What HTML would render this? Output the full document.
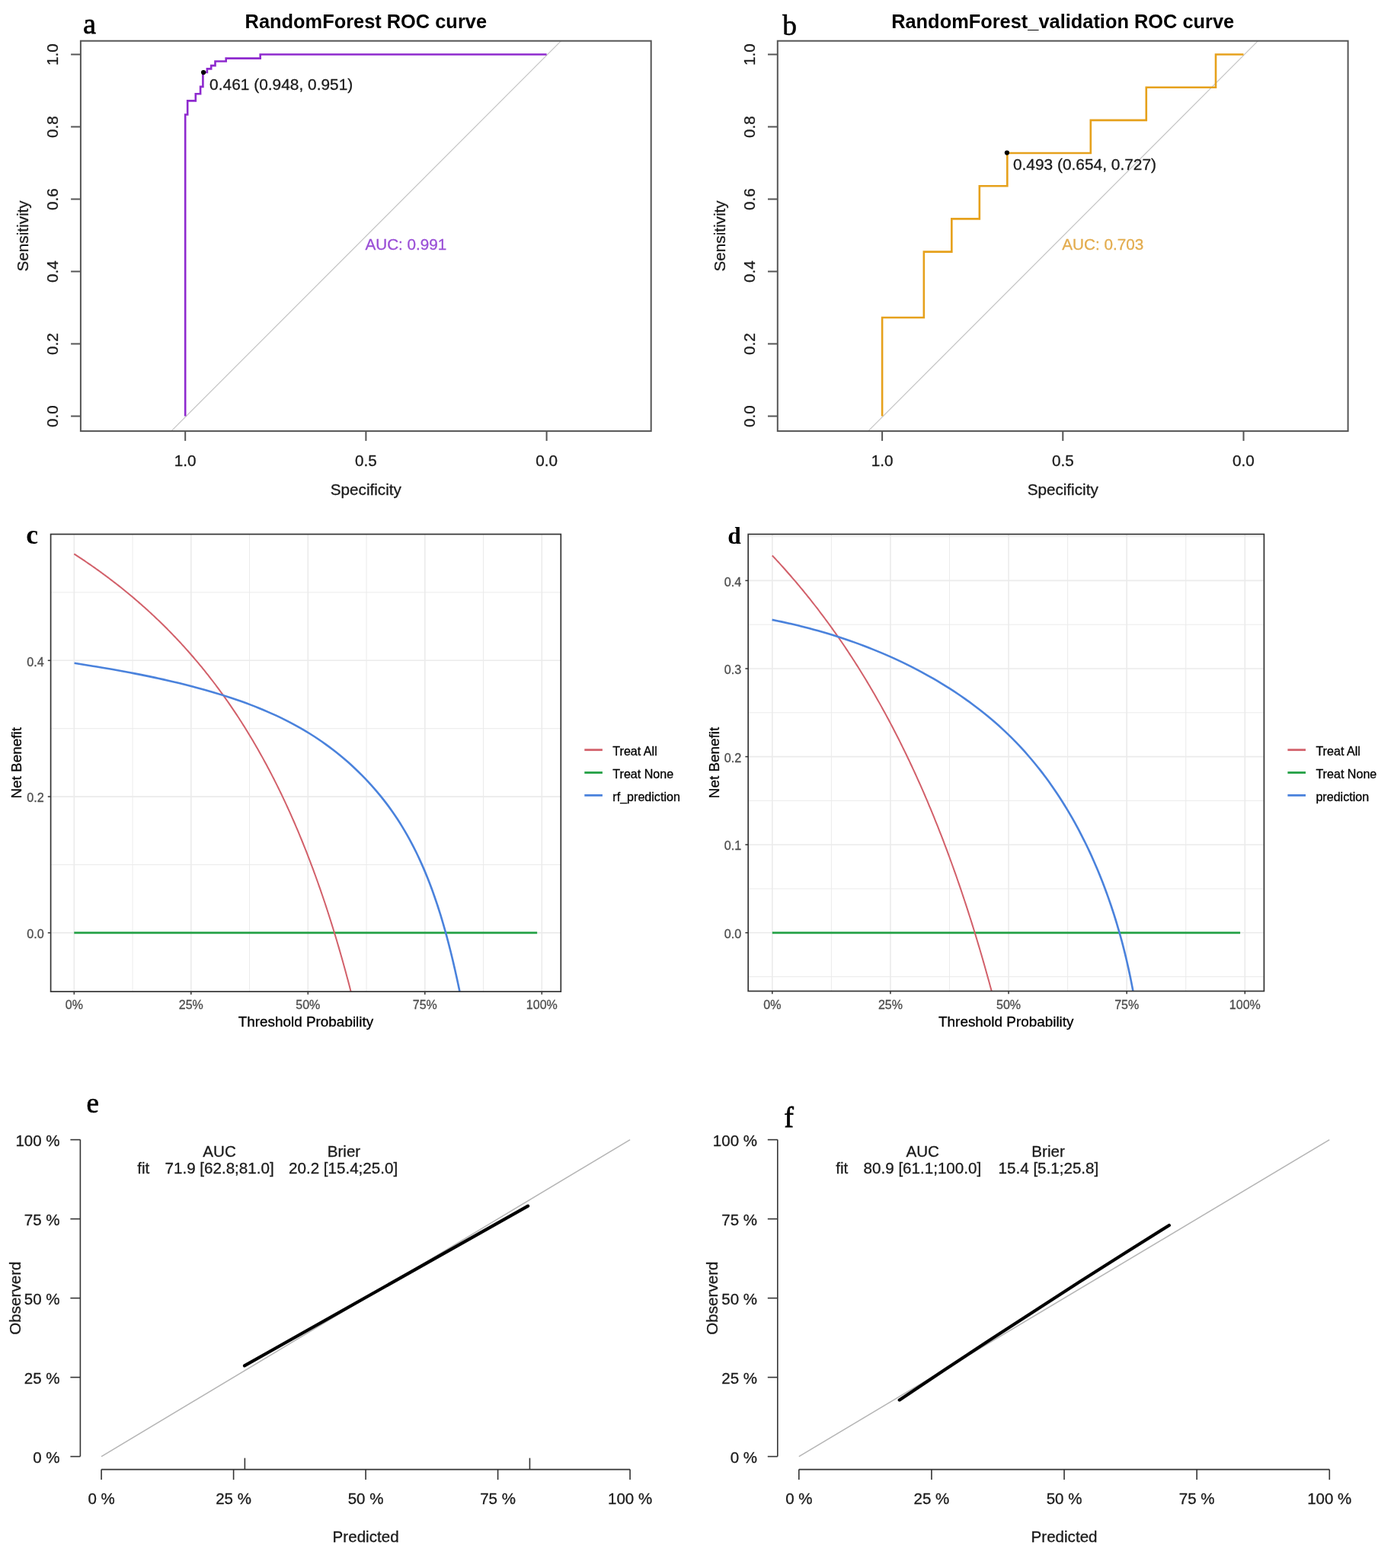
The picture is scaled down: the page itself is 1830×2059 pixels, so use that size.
<!DOCTYPE html>
<html><head><meta charset="utf-8"><title>Model evaluation figure</title>
<style>
html,body{margin:0;padding:0;background:#fff;}
body{width:1830px;height:2059px;overflow:hidden;}
svg{display:block;}
text{white-space:pre;}
</style></head>
<body>
<svg width="1830" height="2059" viewBox="0 0 1830 2059">
<rect x="0" y="0" width="1830" height="2059" fill="#fff"/>
<clipPath id="clipa"><rect x="105.9" y="53.7" width="748.8" height="512.4"/></clipPath>
<line x1="224.8" y1="566.1" x2="736.6" y2="53.7" stroke="#c4c4c4" stroke-width="1.2" clip-path="url(#clipa)"/>
<polyline points="243.2,546.5 243.2,150.5 246.2,150.5 246.2,132.4 256.8,132.4 256.8,123.2 263.1,123.2 263.1,113.9 266.4,113.9 266.4,95.05 271.9,95.05 271.9,90.4 277.2,90.4 277.2,86.1 282.5,86.1 282.5,80.5 296.7,80.5 296.7,76.6 341.7,76.6 341.7,71.5 717.6,71.5" fill="none" stroke="#8e2ace" stroke-width="2.6" stroke-linejoin="miter"/>
<circle cx="267.1" cy="95.1" r="3.1" fill="#000"/>
<text x="275.1" y="117.7" font-family="'Liberation Sans', Arial, sans-serif" font-size="20.9" fill="#1a1a1a" text-anchor="start" stroke="#1a1a1a" stroke-width="0.3">0.461 (0.948, 0.951)</text>
<text x="479.4" y="327.5" font-family="'Liberation Sans', Arial, sans-serif" font-size="20.7" fill="#9a4fd6" text-anchor="start" stroke="#9a4fd6" stroke-width="0.3">AUC: 0.991</text>
<rect x="105.9" y="53.7" width="748.8" height="512.4" fill="none" stroke="#555" stroke-width="2"/>
<line x1="93.1" y1="546.5" x2="105.9" y2="546.5" stroke="#555" stroke-width="2" />
<text x="76.3" y="546.5" font-family="'Liberation Sans', Arial, sans-serif" font-size="20.7" fill="#1a1a1a" text-anchor="middle" transform="rotate(-90 76.3 546.5)" stroke="#1a1a1a" stroke-width="0.3">0.0</text>
<line x1="93.1" y1="451.5" x2="105.9" y2="451.5" stroke="#555" stroke-width="2" />
<text x="76.3" y="451.5" font-family="'Liberation Sans', Arial, sans-serif" font-size="20.7" fill="#1a1a1a" text-anchor="middle" transform="rotate(-90 76.3 451.5)" stroke="#1a1a1a" stroke-width="0.3">0.2</text>
<line x1="93.1" y1="356.5" x2="105.9" y2="356.5" stroke="#555" stroke-width="2" />
<text x="76.3" y="356.5" font-family="'Liberation Sans', Arial, sans-serif" font-size="20.7" fill="#1a1a1a" text-anchor="middle" transform="rotate(-90 76.3 356.5)" stroke="#1a1a1a" stroke-width="0.3">0.4</text>
<line x1="93.1" y1="261.5" x2="105.9" y2="261.5" stroke="#555" stroke-width="2" />
<text x="76.3" y="261.5" font-family="'Liberation Sans', Arial, sans-serif" font-size="20.7" fill="#1a1a1a" text-anchor="middle" transform="rotate(-90 76.3 261.5)" stroke="#1a1a1a" stroke-width="0.3">0.6</text>
<line x1="93.1" y1="166.5" x2="105.9" y2="166.5" stroke="#555" stroke-width="2" />
<text x="76.3" y="166.5" font-family="'Liberation Sans', Arial, sans-serif" font-size="20.7" fill="#1a1a1a" text-anchor="middle" transform="rotate(-90 76.3 166.5)" stroke="#1a1a1a" stroke-width="0.3">0.8</text>
<line x1="93.1" y1="71.5" x2="105.9" y2="71.5" stroke="#555" stroke-width="2" />
<text x="76.3" y="71.5" font-family="'Liberation Sans', Arial, sans-serif" font-size="20.7" fill="#1a1a1a" text-anchor="middle" transform="rotate(-90 76.3 71.5)" stroke="#1a1a1a" stroke-width="0.3">1.0</text>
<line x1="243.2" y1="566.1" x2="243.2" y2="578.9" stroke="#555" stroke-width="2" />
<text x="243.2" y="611.6" font-family="'Liberation Sans', Arial, sans-serif" font-size="20.7" fill="#1a1a1a" text-anchor="middle" stroke="#1a1a1a" stroke-width="0.3">1.0</text>
<line x1="480.4" y1="566.1" x2="480.4" y2="578.9" stroke="#555" stroke-width="2" />
<text x="480.4" y="611.6" font-family="'Liberation Sans', Arial, sans-serif" font-size="20.7" fill="#1a1a1a" text-anchor="middle" stroke="#1a1a1a" stroke-width="0.3">0.5</text>
<line x1="717.6" y1="566.1" x2="717.6" y2="578.9" stroke="#555" stroke-width="2" />
<text x="717.6" y="611.6" font-family="'Liberation Sans', Arial, sans-serif" font-size="20.7" fill="#1a1a1a" text-anchor="middle" stroke="#1a1a1a" stroke-width="0.3">0.0</text>
<text x="480.3" y="650.3" font-family="'Liberation Sans', Arial, sans-serif" font-size="20.7" fill="#1a1a1a" text-anchor="middle" stroke="#1a1a1a" stroke-width="0.3">Specificity</text>
<text x="37" y="309.9" font-family="'Liberation Sans', Arial, sans-serif" font-size="20.7" fill="#1a1a1a" text-anchor="middle" transform="rotate(-90 37 309.9)" stroke="#1a1a1a" stroke-width="0.3">Sensitivity</text>
<text x="480.3" y="36.8" font-family="'Liberation Sans', Arial, sans-serif" font-size="25.4" fill="#000" text-anchor="middle" font-weight="bold" >RandomForest ROC curve</text>
<clipPath id="clipb"><rect x="1020.8" y="53.7" width="748.8" height="512.4"/></clipPath>
<line x1="1139.7" y1="566.1" x2="1651.5" y2="53.7" stroke="#c4c4c4" stroke-width="1.2" clip-path="url(#clipb)"/>
<polyline points="1158.1,546.5 1158.1,416.95 1212.84,416.95 1212.84,330.59 1249.33,330.59 1249.33,287.41 1285.82,287.41 1285.82,244.23 1322.32,244.23 1322.32,201.05 1431.79,201.05 1431.79,157.86 1504.78,157.86 1504.78,114.68 1596.01,114.68 1596.01,71.5 1632.5,71.5" fill="none" stroke="#e6a11c" stroke-width="2.6" stroke-linejoin="miter"/>
<circle cx="1321.9" cy="200.6" r="3.1" fill="#000"/>
<text x="1329.9" y="223.2" font-family="'Liberation Sans', Arial, sans-serif" font-size="20.9" fill="#1a1a1a" text-anchor="start" stroke="#1a1a1a" stroke-width="0.3">0.493 (0.654, 0.727)</text>
<text x="1394.3" y="327.5" font-family="'Liberation Sans', Arial, sans-serif" font-size="20.7" fill="#e3ac4e" text-anchor="start" stroke="#e3ac4e" stroke-width="0.3">AUC: 0.703</text>
<rect x="1020.8" y="53.7" width="748.8" height="512.4" fill="none" stroke="#555" stroke-width="2"/>
<line x1="1008" y1="546.5" x2="1020.8" y2="546.5" stroke="#555" stroke-width="2" />
<text x="991.2" y="546.5" font-family="'Liberation Sans', Arial, sans-serif" font-size="20.7" fill="#1a1a1a" text-anchor="middle" transform="rotate(-90 991.2 546.5)" stroke="#1a1a1a" stroke-width="0.3">0.0</text>
<line x1="1008" y1="451.5" x2="1020.8" y2="451.5" stroke="#555" stroke-width="2" />
<text x="991.2" y="451.5" font-family="'Liberation Sans', Arial, sans-serif" font-size="20.7" fill="#1a1a1a" text-anchor="middle" transform="rotate(-90 991.2 451.5)" stroke="#1a1a1a" stroke-width="0.3">0.2</text>
<line x1="1008" y1="356.5" x2="1020.8" y2="356.5" stroke="#555" stroke-width="2" />
<text x="991.2" y="356.5" font-family="'Liberation Sans', Arial, sans-serif" font-size="20.7" fill="#1a1a1a" text-anchor="middle" transform="rotate(-90 991.2 356.5)" stroke="#1a1a1a" stroke-width="0.3">0.4</text>
<line x1="1008" y1="261.5" x2="1020.8" y2="261.5" stroke="#555" stroke-width="2" />
<text x="991.2" y="261.5" font-family="'Liberation Sans', Arial, sans-serif" font-size="20.7" fill="#1a1a1a" text-anchor="middle" transform="rotate(-90 991.2 261.5)" stroke="#1a1a1a" stroke-width="0.3">0.6</text>
<line x1="1008" y1="166.5" x2="1020.8" y2="166.5" stroke="#555" stroke-width="2" />
<text x="991.2" y="166.5" font-family="'Liberation Sans', Arial, sans-serif" font-size="20.7" fill="#1a1a1a" text-anchor="middle" transform="rotate(-90 991.2 166.5)" stroke="#1a1a1a" stroke-width="0.3">0.8</text>
<line x1="1008" y1="71.5" x2="1020.8" y2="71.5" stroke="#555" stroke-width="2" />
<text x="991.2" y="71.5" font-family="'Liberation Sans', Arial, sans-serif" font-size="20.7" fill="#1a1a1a" text-anchor="middle" transform="rotate(-90 991.2 71.5)" stroke="#1a1a1a" stroke-width="0.3">1.0</text>
<line x1="1158.1" y1="566.1" x2="1158.1" y2="578.9" stroke="#555" stroke-width="2" />
<text x="1158.1" y="611.6" font-family="'Liberation Sans', Arial, sans-serif" font-size="20.7" fill="#1a1a1a" text-anchor="middle" stroke="#1a1a1a" stroke-width="0.3">1.0</text>
<line x1="1395.3" y1="566.1" x2="1395.3" y2="578.9" stroke="#555" stroke-width="2" />
<text x="1395.3" y="611.6" font-family="'Liberation Sans', Arial, sans-serif" font-size="20.7" fill="#1a1a1a" text-anchor="middle" stroke="#1a1a1a" stroke-width="0.3">0.5</text>
<line x1="1632.5" y1="566.1" x2="1632.5" y2="578.9" stroke="#555" stroke-width="2" />
<text x="1632.5" y="611.6" font-family="'Liberation Sans', Arial, sans-serif" font-size="20.7" fill="#1a1a1a" text-anchor="middle" stroke="#1a1a1a" stroke-width="0.3">0.0</text>
<text x="1395.2" y="650.3" font-family="'Liberation Sans', Arial, sans-serif" font-size="20.7" fill="#1a1a1a" text-anchor="middle" stroke="#1a1a1a" stroke-width="0.3">Specificity</text>
<text x="951.9" y="309.9" font-family="'Liberation Sans', Arial, sans-serif" font-size="20.7" fill="#1a1a1a" text-anchor="middle" transform="rotate(-90 951.9 309.9)" stroke="#1a1a1a" stroke-width="0.3">Sensitivity</text>
<text x="1395.2" y="36.8" font-family="'Liberation Sans', Arial, sans-serif" font-size="25.4" fill="#000" text-anchor="middle" font-weight="bold" >RandomForest_validation ROC curve</text>
<text x="109.3" y="43.6" font-family="'Liberation Serif', 'Times New Roman', serif" font-size="37.5" fill="#000" text-anchor="start" stroke="#000" stroke-width="0.8">a</text>
<text x="1027.2" y="46.3" font-family="'Liberation Serif', 'Times New Roman', serif" font-size="37.5" fill="#000" text-anchor="start" stroke="#000" stroke-width="0.6">b</text>
<text x="34.2" y="713.8" font-family="'Liberation Serif', 'Times New Roman', serif" font-size="35.5" fill="#000" text-anchor="start" font-weight="bold" >c</text>
<text x="955.3" y="714" font-family="'Liberation Serif', 'Times New Roman', serif" font-size="31.5" fill="#000" text-anchor="start" font-weight="bold" >d</text>
<text x="113.6" y="1460.8" font-family="'Liberation Serif', 'Times New Roman', serif" font-size="37" fill="#000" text-anchor="start" stroke="#000" stroke-width="0.7">e</text>
<text x="1029.6" y="1479.8" font-family="'Liberation Serif', 'Times New Roman', serif" font-size="37" fill="#000" text-anchor="start" stroke="#000" stroke-width="0.8">f</text>
<clipPath id="dca66"><rect x="66.6" y="701.5" width="669.7" height="600.6"/></clipPath>
<g clip-path="url(#dca66)">
<line x1="66.6" y1="1135.5" x2="736.3" y2="1135.5" stroke="#ebebeb" stroke-width="1.0" />
<line x1="66.6" y1="956.7" x2="736.3" y2="956.7" stroke="#ebebeb" stroke-width="1.0" />
<line x1="66.6" y1="777.9" x2="736.3" y2="777.9" stroke="#ebebeb" stroke-width="1.0" />
<line x1="174.05" y1="701.5" x2="174.05" y2="1302.1" stroke="#ebebeb" stroke-width="1.0" />
<line x1="327.55" y1="701.5" x2="327.55" y2="1302.1" stroke="#ebebeb" stroke-width="1.0" />
<line x1="481.05" y1="701.5" x2="481.05" y2="1302.1" stroke="#ebebeb" stroke-width="1.0" />
<line x1="634.55" y1="701.5" x2="634.55" y2="1302.1" stroke="#ebebeb" stroke-width="1.0" />
<line x1="66.6" y1="1224.9" x2="736.3" y2="1224.9" stroke="#ebebeb" stroke-width="1.6" />
<line x1="66.6" y1="1046.1" x2="736.3" y2="1046.1" stroke="#ebebeb" stroke-width="1.6" />
<line x1="66.6" y1="867.3" x2="736.3" y2="867.3" stroke="#ebebeb" stroke-width="1.6" />
<line x1="97.3" y1="701.5" x2="97.3" y2="1302.1" stroke="#ebebeb" stroke-width="1.6" />
<line x1="250.8" y1="701.5" x2="250.8" y2="1302.1" stroke="#ebebeb" stroke-width="1.6" />
<line x1="404.3" y1="701.5" x2="404.3" y2="1302.1" stroke="#ebebeb" stroke-width="1.6" />
<line x1="557.8" y1="701.5" x2="557.8" y2="1302.1" stroke="#ebebeb" stroke-width="1.6" />
<line x1="711.3" y1="701.5" x2="711.3" y2="1302.1" stroke="#ebebeb" stroke-width="1.6" />
</g>
<line x1="97.3" y1="1224.9" x2="705.16" y2="1224.9" stroke="#22a044" stroke-width="2.8" />
<polyline points="97.3,727.39 98.82,728.38 100.35,729.37 101.87,730.36 103.39,731.36 104.92,732.37 106.44,733.38 107.96,734.4 109.49,735.42 111.01,736.45 112.53,737.48 114.06,738.51 115.58,739.56 117.1,740.6 118.63,741.66 120.15,742.72 121.68,743.78 123.2,744.85 124.72,745.92 126.25,747.01 127.77,748.09 129.29,749.18 130.82,750.28 132.34,751.39 133.86,752.49 135.39,753.61 136.91,754.73 138.43,755.86 139.96,756.99 141.48,758.13 143,759.28 144.53,760.43 146.05,761.58 147.57,762.75 149.1,763.92 150.62,765.1 152.14,766.28 153.67,767.47 155.19,768.66 156.71,769.87 158.24,771.08 159.76,772.29 161.29,773.51 162.81,774.74 164.33,775.98 165.86,777.22 167.38,778.47 168.9,779.73 170.43,780.99 171.95,782.27 173.47,783.54 175,784.83 176.52,786.12 178.04,787.42 179.57,788.73 181.09,790.05 182.61,791.37 184.14,792.7 185.66,794.04 187.18,795.39 188.71,796.74 190.23,798.1 191.75,799.47 193.28,800.85 194.8,802.24 196.32,803.63 197.85,805.03 199.37,806.44 200.9,807.86 202.42,809.29 203.94,810.73 205.47,812.17 206.99,813.63 208.51,815.09 210.04,816.56 211.56,818.04 213.08,819.53 214.61,821.03 216.13,822.54 217.65,824.05 219.18,825.58 220.7,827.12 222.22,828.66 223.75,830.22 225.27,831.78 226.79,833.36 228.32,834.94 229.84,836.54 231.36,838.14 232.89,839.76 234.41,841.38 235.93,843.02 237.46,844.67 238.98,846.32 240.51,847.99 242.03,849.67 243.55,851.36 245.08,853.06 246.6,854.77 248.12,856.5 249.65,858.23 251.17,859.98 252.69,861.73 254.22,863.5 255.74,865.28 257.26,867.08 258.79,868.88 260.31,870.7 261.83,872.53 263.36,874.37 264.88,876.23 266.4,878.09 267.93,879.97 269.45,881.87 270.97,883.77 272.5,885.69 274.02,887.63 275.54,889.57 277.07,891.53 278.59,893.51 280.12,895.49 281.64,897.5 283.16,899.51 284.69,901.54 286.21,903.59 287.73,905.65 289.26,907.72 290.78,909.81 292.3,911.92 293.83,914.04 295.35,916.17 296.87,918.32 298.4,920.49 299.92,922.67 301.44,924.87 302.97,927.09 304.49,929.32 306.01,931.57 307.54,933.84 309.06,936.12 310.58,938.42 312.11,940.74 313.63,943.08 315.15,945.43 316.68,947.8 318.2,950.2 319.72,952.61 321.25,955.03 322.77,957.48 324.3,959.95 325.82,962.43 327.34,964.94 328.87,967.46 330.39,970.01 331.91,972.58 333.44,975.16 334.96,977.77 336.48,980.4 338.01,983.05 339.53,985.72 341.05,988.42 342.58,991.14 344.1,993.88 345.62,996.64 347.15,999.42 348.67,1002.23 350.19,1005.06 351.72,1007.92 353.24,1010.8 354.76,1013.71 356.29,1016.64 357.81,1019.59 359.33,1022.57 360.86,1025.58 362.38,1028.61 363.91,1031.67 365.43,1034.76 366.95,1037.87 368.48,1041.01 370,1044.18 371.52,1047.38 373.05,1050.61 374.57,1053.86 376.09,1057.15 377.62,1060.47 379.14,1063.81 380.66,1067.19 382.19,1070.6 383.71,1074.04 385.23,1077.51 386.76,1081.01 388.28,1084.55 389.8,1088.12 391.33,1091.73 392.85,1095.37 394.37,1099.04 395.9,1102.75 397.42,1106.5 398.94,1110.28 400.47,1114.1 401.99,1117.96 403.52,1121.86 405.04,1125.79 406.56,1129.76 408.09,1133.78 409.61,1137.83 411.13,1141.93 412.66,1146.07 414.18,1150.24 415.7,1154.47 417.23,1158.73 418.75,1163.05 420.27,1167.4 421.8,1171.8 423.32,1176.25 424.84,1180.75 426.37,1185.29 427.89,1189.88 429.41,1194.53 430.94,1199.22 432.46,1203.96 433.98,1208.76 435.51,1213.61 437.03,1218.51 438.55,1223.47 440.08,1228.48 441.6,1233.55 443.13,1238.68 444.65,1243.87 446.17,1249.11 447.7,1254.42 449.22,1259.79 450.74,1265.22 452.27,1270.72 453.79,1276.28 455.31,1281.9 456.84,1287.6 458.36,1293.36 459.88,1299.19 461.41,1305.09 462.93,1311.07 464.45,1317.12 465.98,1323.24 467.5,1329.44 469.02,1335.72 470.55,1342.08 472.07,1348.52 473.59,1355.04 475.12,1361.65 476.64,1368.34 478.16,1375.12 479.69,1381.99 481.21,1388.95 482.74,1396 484.26,1403.15 485.78,1410.39 487.31,1417.73 488.83,1425.17 490.35,1432.72 491.88,1440.37 493.4,1448.13 494.92,1455.99 496.45,1463.97 497.97,1472.06 499.49,1480.27 501.02,1488.6 502.54,1497.04 504.06,1505.62 505.59,1514.32 507.11,1523.15 508.63,1532.11 510.16,1541.21 511.68,1550.44 513.2,1559.82 514.73,1569.35 516.25,1579.02 517.77,1588.84 519.3,1598.83 520.82,1608.97 522.34,1619.27 523.87,1629.74 525.39,1640.39 526.92,1651.21 528.44,1662.21 529.96,1673.39 531.49,1684.76 533.01,1696.33 534.53,1708.1 536.06,1720.07 537.58,1732.26 539.1,1744.65 540.63,1757.27 542.15,1770.12 543.67,1783.2 545.2,1796.52 546.72,1810.09 548.24,1823.91 549.77,1837.99 551.29,1852.34 552.81,1866.96 554.34,1881.87 555.86,1897.07 557.38,1912.57 558.91,1928.39 560.43,1944.52 561.95,1960.98 563.48,1977.78 565,1994.93 566.53,2012.44 568.05,2030.32 569.57,2048.59 571.1,2067.25 572.62,2086.33 574.14,2105.83 575.67,2125.76 577.19,2146.15 578.71,2167.01 580.24,2188.35 581.76,2210.2 583.28,2232.56 584.81,2255.46 586.33,2278.93 587.85,2302.97 589.38,2327.61 590.9,2352.87 592.42,2378.78 593.95,2405.37 595.47,2432.66 596.99,2460.67 598.52,2489.44 600.04,2518.99 601.56,2549.37 603.09,2580.6 604.61,2612.73 606.14,2645.78 607.66,2679.81 609.18,2714.85 610.71,2750.96 612.23,2788.17 613.75,2826.55 615.28,2866.14 616.8,2907.01 618.32,2949.22 619.85,2992.84 621.37,3037.93 622.89,3084.58 624.42,3132.87 625.94,3182.88 627.46,3234.7 628.99,3288.45 630.51,3344.22 632.03,3402.13 633.56,3462.32 635.08,3524.91 636.6,3590.05 638.13,3657.91 639.65,3728.65 641.17,3802.46 642.7,3879.56 644.22,3960.15 645.75,4044.49 647.27,4132.85 648.79,4225.51 650.32,4322.8 651.84,4425.08 653.36,4532.74 654.89,4646.21 656.41,4765.97 657.93,4892.58 659.46,5026.63 660.98,5168.79 662.5,5319.83 664.03,5480.61 665.55,5652.09 667.07,5835.39 668.6,6031.77 670.12,6242.68 671.64,6469.79 673.17,6715.04 674.69,6980.72 676.21,7269.46 677.74,7584.41 679.26,7929.32 680.78,8308.67 682.31,8727.88 683.83,9193.6 685.36,9714 686.88,10299.34 688.4,10962.56 689.93,11720.32 691.45,12594.4 692.97,13613.78 694.5,14818 696.02,16262.33 697.54,18026.55 699.07,20230.16 700.59,23060.66 702.11,26829.91 703.64,32097.79 705.16,39979.8" fill="none" stroke="#d2606a" stroke-width="2.0" clip-path="url(#dca66)"/>
<path d="M97.6,870.79 C99.63,871.11 105.74,872.05 109.81,872.7 C113.89,873.35 117.96,874.01 122.03,874.67 C126.11,875.34 130.18,876.02 134.26,876.71 C138.33,877.4 142.4,878.1 146.48,878.81 C150.55,879.53 154.62,880.26 158.7,881 C162.77,881.74 166.84,882.5 170.91,883.28 C174.98,884.05 179.06,884.84 183.12,885.65 C187.19,886.46 191.26,887.29 195.33,888.13 C199.39,888.98 203.46,889.84 207.52,890.73 C211.58,891.61 215.65,892.52 219.7,893.45 C223.76,894.37 227.82,895.32 231.87,896.3 C235.93,897.27 239.98,898.27 244.03,899.29 C248.07,900.31 252.12,901.36 256.16,902.43 C260.2,903.51 264.24,904.6 268.28,905.73 C272.31,906.86 276.34,908.02 280.35,909.21 C284.37,910.4 288.38,911.62 292.38,912.87 C296.38,914.13 300.37,915.42 304.34,916.74 C308.31,918.07 312.27,919.43 316.22,920.83 C320.16,922.23 324.09,923.67 328,925.15 C331.91,926.64 335.8,928.16 339.67,929.73 C343.54,931.3 347.38,932.91 351.21,934.57 C355.03,936.22 358.83,937.93 362.61,939.68 C366.38,941.44 370.13,943.24 373.85,945.1 C377.56,946.95 381.25,948.86 384.91,950.82 C388.57,952.78 392.2,954.8 395.79,956.87 C399.38,958.95 402.94,961.08 406.46,963.26 C409.98,965.45 413.47,967.7 416.92,970 C420.37,972.31 423.78,974.67 427.15,977.09 C430.51,979.5 433.85,981.98 437.13,984.51 C440.42,987.03 443.67,989.62 446.87,992.25 C450.07,994.88 453.23,997.57 456.35,1000.31 C459.46,1003.05 462.53,1005.84 465.56,1008.68 C468.58,1011.52 471.56,1014.42 474.48,1017.36 C477.41,1020.3 480.29,1023.29 483.12,1026.32 C485.94,1029.36 488.72,1032.44 491.45,1035.57 C494.17,1038.7 496.85,1041.88 499.47,1045.1 C502.09,1048.32 504.65,1051.59 507.16,1054.9 C509.67,1058.2 512.13,1061.56 514.52,1064.95 C516.92,1068.35 519.26,1071.78 521.54,1075.26 C523.82,1078.74 526.04,1082.25 528.21,1085.81 C530.37,1089.36 532.48,1092.96 534.53,1096.59 C536.58,1100.22 538.57,1103.88 540.52,1107.58 C542.46,1111.27 544.35,1115 546.19,1118.76 C548.03,1122.51 549.82,1126.3 551.56,1130.12 C553.3,1133.93 554.99,1137.77 556.64,1141.63 C558.28,1145.49 559.88,1149.38 561.44,1153.29 C563,1157.19 564.51,1161.12 565.98,1165.07 C567.45,1169.01 568.88,1172.97 570.27,1176.95 C571.66,1180.93 573.01,1184.92 574.33,1188.92 C575.64,1192.93 576.92,1196.95 578.17,1200.97 C579.41,1204.99 580.62,1209.03 581.8,1213.07 C582.97,1217.11 584.12,1221.16 585.23,1225.2 C586.35,1229.25 587.43,1233.31 588.49,1237.36 C589.55,1241.41 590.58,1245.46 591.59,1249.51 C592.59,1253.56 593.57,1257.61 594.53,1261.65 C595.49,1265.69 596.42,1269.73 597.33,1273.76 C598.25,1277.79 599.14,1281.81 600.01,1285.82 C600.89,1289.82 601.74,1293.82 602.58,1297.8 C603.42,1301.78 604.64,1307.72 605.06,1309.71" fill="none" stroke="#4a82dc" stroke-width="2.6" clip-path="url(#dca66)" stroke-linejoin="round"/>
<rect x="66.6" y="701.5" width="669.7" height="600.6" fill="none" stroke="#333" stroke-width="1.7"/>
<line x1="62.8" y1="1224.9" x2="66.6" y2="1224.9" stroke="#333" stroke-width="1.5" />
<text x="57.7" y="1232.1" font-family="'Liberation Sans', Arial, sans-serif" font-size="16.2" fill="#4d4d4d" text-anchor="end" stroke="#4d4d4d" stroke-width="0.3">0.0</text>
<line x1="62.8" y1="1046.1" x2="66.6" y2="1046.1" stroke="#333" stroke-width="1.5" />
<text x="57.7" y="1053.3" font-family="'Liberation Sans', Arial, sans-serif" font-size="16.2" fill="#4d4d4d" text-anchor="end" stroke="#4d4d4d" stroke-width="0.3">0.2</text>
<line x1="62.8" y1="867.3" x2="66.6" y2="867.3" stroke="#333" stroke-width="1.5" />
<text x="57.7" y="874.5" font-family="'Liberation Sans', Arial, sans-serif" font-size="16.2" fill="#4d4d4d" text-anchor="end" stroke="#4d4d4d" stroke-width="0.3">0.4</text>
<line x1="97.3" y1="1302.1" x2="97.3" y2="1305.9" stroke="#333" stroke-width="1.5" />
<text x="97.3" y="1325.3" font-family="'Liberation Sans', Arial, sans-serif" font-size="16" fill="#4d4d4d" text-anchor="middle" stroke="#4d4d4d" stroke-width="0.3">0%</text>
<line x1="250.8" y1="1302.1" x2="250.8" y2="1305.9" stroke="#333" stroke-width="1.5" />
<text x="250.8" y="1325.3" font-family="'Liberation Sans', Arial, sans-serif" font-size="16" fill="#4d4d4d" text-anchor="middle" stroke="#4d4d4d" stroke-width="0.3">25%</text>
<line x1="404.3" y1="1302.1" x2="404.3" y2="1305.9" stroke="#333" stroke-width="1.5" />
<text x="404.3" y="1325.3" font-family="'Liberation Sans', Arial, sans-serif" font-size="16" fill="#4d4d4d" text-anchor="middle" stroke="#4d4d4d" stroke-width="0.3">50%</text>
<line x1="557.8" y1="1302.1" x2="557.8" y2="1305.9" stroke="#333" stroke-width="1.5" />
<text x="557.8" y="1325.3" font-family="'Liberation Sans', Arial, sans-serif" font-size="16" fill="#4d4d4d" text-anchor="middle" stroke="#4d4d4d" stroke-width="0.3">75%</text>
<line x1="711.3" y1="1302.1" x2="711.3" y2="1305.9" stroke="#333" stroke-width="1.5" />
<text x="711.3" y="1325.3" font-family="'Liberation Sans', Arial, sans-serif" font-size="16" fill="#4d4d4d" text-anchor="middle" stroke="#4d4d4d" stroke-width="0.3">100%</text>
<text x="401.45" y="1348" font-family="'Liberation Sans', Arial, sans-serif" font-size="18.9" fill="#000" text-anchor="middle" stroke="#000" stroke-width="0.3">Threshold Probability</text>
<text x="28" y="1001.8" font-family="'Liberation Sans', Arial, sans-serif" font-size="18.9" fill="#000" text-anchor="middle" transform="rotate(-90 28 1001.8)" stroke="#000" stroke-width="0.3">Net Benefit</text>
<line x1="767.3" y1="984.7" x2="790.9" y2="984.7" stroke="#d2606a" stroke-width="2.8" />
<text x="804.3" y="992.3" font-family="'Liberation Sans', Arial, sans-serif" font-size="16.1" fill="#000" text-anchor="start" stroke="#000" stroke-width="0.3">Treat All</text>
<line x1="767.3" y1="1014.55" x2="790.9" y2="1014.55" stroke="#22a044" stroke-width="2.8" />
<text x="804.3" y="1022.15" font-family="'Liberation Sans', Arial, sans-serif" font-size="16.1" fill="#000" text-anchor="start" stroke="#000" stroke-width="0.3">Treat None</text>
<line x1="767.3" y1="1044.4" x2="790.9" y2="1044.4" stroke="#4a82dc" stroke-width="2.8" />
<text x="804.3" y="1052" font-family="'Liberation Sans', Arial, sans-serif" font-size="16.1" fill="#000" text-anchor="start" stroke="#000" stroke-width="0.3">rf_prediction</text>
<clipPath id="dca982"><rect x="982.2" y="701.5" width="677.2" height="600"/></clipPath>
<g clip-path="url(#dca982)">
<line x1="982.2" y1="1282.6" x2="1659.4" y2="1282.6" stroke="#ebebeb" stroke-width="1.0" />
<line x1="982.2" y1="1167" x2="1659.4" y2="1167" stroke="#ebebeb" stroke-width="1.0" />
<line x1="982.2" y1="1051.4" x2="1659.4" y2="1051.4" stroke="#ebebeb" stroke-width="1.0" />
<line x1="982.2" y1="935.8" x2="1659.4" y2="935.8" stroke="#ebebeb" stroke-width="1.0" />
<line x1="982.2" y1="820.2" x2="1659.4" y2="820.2" stroke="#ebebeb" stroke-width="1.0" />
<line x1="982.2" y1="704.6" x2="1659.4" y2="704.6" stroke="#ebebeb" stroke-width="1.0" />
<line x1="1091.36" y1="701.5" x2="1091.36" y2="1301.5" stroke="#ebebeb" stroke-width="1.0" />
<line x1="1246.49" y1="701.5" x2="1246.49" y2="1301.5" stroke="#ebebeb" stroke-width="1.0" />
<line x1="1401.61" y1="701.5" x2="1401.61" y2="1301.5" stroke="#ebebeb" stroke-width="1.0" />
<line x1="1556.74" y1="701.5" x2="1556.74" y2="1301.5" stroke="#ebebeb" stroke-width="1.0" />
<line x1="982.2" y1="1224.8" x2="1659.4" y2="1224.8" stroke="#ebebeb" stroke-width="1.6" />
<line x1="982.2" y1="1109.2" x2="1659.4" y2="1109.2" stroke="#ebebeb" stroke-width="1.6" />
<line x1="982.2" y1="993.6" x2="1659.4" y2="993.6" stroke="#ebebeb" stroke-width="1.6" />
<line x1="982.2" y1="878" x2="1659.4" y2="878" stroke="#ebebeb" stroke-width="1.6" />
<line x1="982.2" y1="762.4" x2="1659.4" y2="762.4" stroke="#ebebeb" stroke-width="1.6" />
<line x1="1013.8" y1="701.5" x2="1013.8" y2="1301.5" stroke="#ebebeb" stroke-width="1.6" />
<line x1="1168.92" y1="701.5" x2="1168.92" y2="1301.5" stroke="#ebebeb" stroke-width="1.6" />
<line x1="1324.05" y1="701.5" x2="1324.05" y2="1301.5" stroke="#ebebeb" stroke-width="1.6" />
<line x1="1479.17" y1="701.5" x2="1479.17" y2="1301.5" stroke="#ebebeb" stroke-width="1.6" />
<line x1="1634.3" y1="701.5" x2="1634.3" y2="1301.5" stroke="#ebebeb" stroke-width="1.6" />
</g>
<line x1="1013.8" y1="1224.8" x2="1628.09" y2="1224.8" stroke="#22a044" stroke-width="2.8" />
<polyline points="1013.8,729.45 1015.34,731.1 1016.88,732.75 1018.42,734.41 1019.96,736.08 1021.5,737.75 1023.04,739.44 1024.58,741.13 1026.12,742.83 1027.66,744.54 1029.2,746.26 1030.74,747.99 1032.28,749.73 1033.81,751.47 1035.35,753.23 1036.89,754.99 1038.43,756.77 1039.97,758.55 1041.51,760.34 1043.05,762.14 1044.59,763.95 1046.13,765.77 1047.67,767.6 1049.21,769.44 1050.75,771.29 1052.29,773.14 1053.83,775.01 1055.37,776.89 1056.91,778.78 1058.45,780.68 1059.99,782.59 1061.53,784.5 1063.07,786.43 1064.61,788.37 1066.15,790.32 1067.69,792.28 1069.23,794.25 1070.76,796.24 1072.3,798.23 1073.84,800.23 1075.38,802.25 1076.92,804.27 1078.46,806.31 1080,808.36 1081.54,810.42 1083.08,812.49 1084.62,814.57 1086.16,816.67 1087.7,818.77 1089.24,820.89 1090.78,823.02 1092.32,825.17 1093.86,827.32 1095.4,829.49 1096.94,831.67 1098.48,833.86 1100.02,836.06 1101.56,838.28 1103.1,840.51 1104.64,842.75 1106.18,845.01 1107.71,847.28 1109.25,849.56 1110.79,851.86 1112.33,854.17 1113.87,856.49 1115.41,858.83 1116.95,861.18 1118.49,863.54 1120.03,865.92 1121.57,868.32 1123.11,870.73 1124.65,873.15 1126.19,875.59 1127.73,878.04 1129.27,880.5 1130.81,882.99 1132.35,885.48 1133.89,888 1135.43,890.52 1136.97,893.07 1138.51,895.63 1140.05,898.2 1141.59,900.79 1143.13,903.4 1144.66,906.03 1146.2,908.67 1147.74,911.33 1149.28,914 1150.82,916.69 1152.36,919.4 1153.9,922.13 1155.44,924.87 1156.98,927.63 1158.52,930.41 1160.06,933.21 1161.6,936.02 1163.14,938.86 1164.68,941.71 1166.22,944.58 1167.76,947.47 1169.3,950.38 1170.84,953.31 1172.38,956.26 1173.92,959.22 1175.46,962.21 1177,965.22 1178.54,968.25 1180.08,971.3 1181.61,974.37 1183.15,977.46 1184.69,980.57 1186.23,983.7 1187.77,986.85 1189.31,990.03 1190.85,993.23 1192.39,996.45 1193.93,999.69 1195.47,1002.96 1197.01,1006.25 1198.55,1009.56 1200.09,1012.9 1201.63,1016.26 1203.17,1019.64 1204.71,1023.05 1206.25,1026.48 1207.79,1029.94 1209.33,1033.42 1210.87,1036.92 1212.41,1040.46 1213.95,1044.02 1215.49,1047.6 1217.03,1051.21 1218.57,1054.85 1220.1,1058.52 1221.64,1062.21 1223.18,1065.93 1224.72,1069.68 1226.26,1073.45 1227.8,1077.26 1229.34,1081.09 1230.88,1084.96 1232.42,1088.85 1233.96,1092.77 1235.5,1096.72 1237.04,1100.71 1238.58,1104.72 1240.12,1108.77 1241.66,1112.85 1243.2,1116.96 1244.74,1121.1 1246.28,1125.27 1247.82,1129.48 1249.36,1133.73 1250.9,1138 1252.44,1142.31 1253.98,1146.66 1255.52,1151.04 1257.05,1155.46 1258.59,1159.91 1260.13,1164.4 1261.67,1168.92 1263.21,1173.49 1264.75,1178.09 1266.29,1182.73 1267.83,1187.41 1269.37,1192.13 1270.91,1196.89 1272.45,1201.69 1273.99,1206.53 1275.53,1211.41 1277.07,1216.34 1278.61,1221.31 1280.15,1226.32 1281.69,1231.37 1283.23,1236.47 1284.77,1241.61 1286.31,1246.8 1287.85,1252.03 1289.39,1257.32 1290.93,1262.64 1292.47,1268.02 1294,1273.45 1295.54,1278.92 1297.08,1284.45 1298.62,1290.02 1300.16,1295.65 1301.7,1301.33 1303.24,1307.06 1304.78,1312.85 1306.32,1318.69 1307.86,1324.58 1309.4,1330.53 1310.94,1336.54 1312.48,1342.6 1314.02,1348.73 1315.56,1354.91 1317.1,1361.15 1318.64,1367.45 1320.18,1373.82 1321.72,1380.25 1323.26,1386.74 1324.8,1393.29 1326.34,1399.92 1327.88,1406.6 1329.42,1413.36 1330.95,1420.18 1332.49,1427.08 1334.03,1434.04 1335.57,1441.08 1337.11,1448.19 1338.65,1455.37 1340.19,1462.63 1341.73,1469.96 1343.27,1477.38 1344.81,1484.87 1346.35,1492.44 1347.89,1500.09 1349.43,1507.83 1350.97,1515.65 1352.51,1523.55 1354.05,1531.54 1355.59,1539.62 1357.13,1547.79 1358.67,1556.05 1360.21,1564.41 1361.75,1572.86 1363.29,1581.4 1364.83,1590.04 1366.37,1598.78 1367.9,1607.63 1369.44,1616.57 1370.98,1625.62 1372.52,1634.78 1374.06,1644.04 1375.6,1653.42 1377.14,1662.9 1378.68,1672.5 1380.22,1682.22 1381.76,1692.06 1383.3,1702.02 1384.84,1712.09 1386.38,1722.3 1387.92,1732.63 1389.46,1743.09 1391,1753.69 1392.54,1764.42 1394.08,1775.29 1395.62,1786.29 1397.16,1797.44 1398.7,1808.74 1400.24,1820.18 1401.78,1831.78 1403.32,1843.53 1404.85,1855.44 1406.39,1867.51 1407.93,1879.74 1409.47,1892.14 1411.01,1904.72 1412.55,1917.46 1414.09,1930.39 1415.63,1943.5 1417.17,1956.79 1418.71,1970.27 1420.25,1983.95 1421.79,1997.82 1423.33,2011.9 1424.87,2026.18 1426.41,2040.68 1427.95,2055.39 1429.49,2070.33 1431.03,2085.49 1432.57,2100.88 1434.11,2116.5 1435.65,2132.37 1437.19,2148.49 1438.73,2164.86 1440.27,2181.49 1441.81,2198.39 1443.34,2215.56 1444.88,2233.01 1446.42,2250.75 1447.96,2268.77 1449.5,2287.1 1451.04,2305.74 1452.58,2324.69 1454.12,2343.97 1455.66,2363.58 1457.2,2383.53 1458.74,2403.82 1460.28,2424.48 1461.82,2445.51 1463.36,2466.92 1464.9,2488.71 1466.44,2510.91 1467.98,2533.51 1469.52,2556.54 1471.06,2580 1472.6,2603.91 1474.14,2628.28 1475.68,2653.12 1477.22,2678.45 1478.76,2704.28 1480.29,2730.63 1481.83,2757.51 1483.37,2784.94 1484.91,2812.93 1486.45,2841.5 1487.99,2870.68 1489.53,2900.48 1491.07,2930.92 1492.61,2962.02 1494.15,2993.8 1495.69,3026.29 1497.23,3059.51 1498.77,3093.48 1500.31,3128.24 1501.85,3163.8 1503.39,3200.2 1504.93,3237.46 1506.47,3275.62 1508.01,3314.72 1509.55,3354.78 1511.09,3395.83 1512.63,3437.93 1514.17,3481.11 1515.71,3525.41 1517.24,3570.87 1518.78,3617.55 1520.32,3665.48 1521.86,3714.73 1523.4,3765.35 1524.94,3817.39 1526.48,3870.92 1528.02,3926 1529.56,3982.7 1531.1,4041.09 1532.64,4101.25 1534.18,4163.25 1535.72,4227.2 1537.26,4293.17 1538.8,4361.28 1540.34,4431.61 1541.88,4504.29 1543.42,4579.43 1544.96,4657.15 1546.5,4737.61 1548.04,4820.94 1549.58,4907.29 1551.12,4996.84 1552.66,5089.77 1554.19,5186.27 1555.73,5286.55 1557.27,5390.85 1558.81,5499.39 1560.35,5612.46 1561.89,5730.33 1563.43,5853.33 1564.97,5981.79 1566.51,6116.08 1568.05,6256.62 1569.59,6403.84 1571.13,6558.24 1572.67,6720.35 1574.21,6890.77 1575.75,7070.15 1577.29,7259.22 1578.83,7458.79 1580.37,7669.75 1581.91,7893.11 1583.45,8129.99 1584.99,8381.66 1586.53,8649.56 1588.07,8935.3 1589.61,9240.72 1591.14,9567.93 1592.68,9919.36 1594.22,10297.79 1595.76,10706.45 1597.3,11149.13 1598.84,11630.25 1600.38,12155.04 1601.92,12729.75 1603.46,13361.84 1605,14060.36 1606.54,14836.36 1608.08,15703.49 1609.62,16678.82 1611.16,17783.92 1612.7,19046.55 1614.24,20502.98 1615.78,22201.54 1617.32,24208.08 1618.86,26614.72 1620.4,29554.36 1621.94,33226.15 1623.48,37942.5 1625.02,44223.06 1626.56,53000.72 1628.09,66134.2" fill="none" stroke="#d2606a" stroke-width="2.0" clip-path="url(#dca982)"/>
<path d="M1013.62,813.89 C1015.64,814.31 1021.69,815.51 1025.73,816.37 C1029.77,817.23 1033.81,818.12 1037.84,819.05 C1041.88,819.98 1045.92,820.94 1049.95,821.94 C1053.99,822.93 1058.02,823.96 1062.05,825.03 C1066.08,826.09 1070.11,827.19 1074.13,828.33 C1078.15,829.46 1082.16,830.63 1086.17,831.84 C1090.18,833.04 1094.19,834.29 1098.18,835.56 C1102.17,836.84 1106.16,838.15 1110.14,839.5 C1114.11,840.84 1118.08,842.23 1122.03,843.65 C1125.99,845.07 1129.93,846.52 1133.86,848.01 C1137.79,849.51 1141.71,851.03 1145.62,852.6 C1149.52,854.16 1153.41,855.76 1157.28,857.4 C1161.15,859.04 1165.01,860.72 1168.85,862.43 C1172.69,864.14 1176.51,865.89 1180.31,867.68 C1184.12,869.46 1187.9,871.29 1191.66,873.15 C1195.43,875.01 1199.17,876.91 1202.89,878.85 C1206.61,880.78 1210.31,882.76 1213.98,884.77 C1217.65,886.79 1221.31,888.84 1224.93,890.93 C1228.55,893.02 1232.15,895.14 1235.73,897.31 C1239.3,899.48 1242.85,901.68 1246.36,903.93 C1249.88,906.17 1253.37,908.46 1256.83,910.78 C1260.28,913.1 1263.71,915.47 1267.11,917.87 C1270.51,920.27 1273.87,922.71 1277.21,925.19 C1280.54,927.67 1283.84,930.19 1287.1,932.75 C1290.37,935.31 1293.6,937.91 1296.79,940.55 C1299.98,943.2 1303.14,945.88 1306.26,948.6 C1309.38,951.32 1312.46,954.08 1315.51,956.89 C1318.55,959.69 1321.55,962.53 1324.51,965.42 C1327.48,968.3 1330.4,971.23 1333.28,974.2 C1336.16,977.16 1338.99,980.17 1341.79,983.22 C1344.58,986.27 1347.34,989.36 1350.05,992.48 C1352.76,995.6 1355.43,998.77 1358.06,1001.97 C1360.69,1005.17 1363.28,1008.4 1365.83,1011.67 C1368.38,1014.94 1370.88,1018.25 1373.35,1021.59 C1375.82,1024.93 1378.24,1028.3 1380.63,1031.7 C1383.02,1035.11 1385.37,1038.54 1387.67,1042.01 C1389.98,1045.47 1392.25,1048.97 1394.48,1052.49 C1396.71,1056.02 1398.9,1059.57 1401.05,1063.15 C1403.2,1066.73 1405.31,1070.33 1407.39,1073.97 C1409.46,1077.6 1411.5,1081.26 1413.5,1084.94 C1415.5,1088.62 1417.46,1092.32 1419.38,1096.05 C1421.3,1099.78 1423.19,1103.53 1425.03,1107.3 C1426.88,1111.07 1428.69,1114.86 1430.47,1118.67 C1432.24,1122.48 1433.98,1126.31 1435.68,1130.16 C1437.38,1134.01 1439.04,1137.87 1440.67,1141.76 C1442.3,1145.64 1443.89,1149.53 1445.45,1153.45 C1447,1157.36 1448.52,1161.29 1450.01,1165.22 C1451.5,1169.16 1452.95,1173.12 1454.36,1177.08 C1455.78,1181.04 1457.16,1185.02 1458.5,1189 C1459.85,1192.99 1461.16,1196.99 1462.44,1200.99 C1463.71,1204.99 1464.96,1209 1466.17,1213.02 C1467.38,1217.04 1468.55,1221.07 1469.69,1225.1 C1470.84,1229.13 1471.94,1233.16 1473.02,1237.2 C1474.1,1241.24 1475.14,1245.28 1476.15,1249.33 C1477.16,1253.37 1478.14,1257.42 1479.08,1261.47 C1480.03,1265.52 1480.94,1269.56 1481.82,1273.61 C1482.7,1277.66 1483.55,1281.7 1484.37,1285.75 C1485.19,1289.79 1485.97,1293.83 1486.73,1297.87 C1487.48,1301.9 1488.54,1307.95 1488.9,1309.96" fill="none" stroke="#4a82dc" stroke-width="2.6" clip-path="url(#dca982)" stroke-linejoin="round"/>
<rect x="982.2" y="701.5" width="677.2" height="600" fill="none" stroke="#333" stroke-width="1.7"/>
<line x1="978.4" y1="1224.8" x2="982.2" y2="1224.8" stroke="#333" stroke-width="1.5" />
<text x="973.3" y="1232" font-family="'Liberation Sans', Arial, sans-serif" font-size="16.2" fill="#4d4d4d" text-anchor="end" stroke="#4d4d4d" stroke-width="0.3">0.0</text>
<line x1="978.4" y1="1109.2" x2="982.2" y2="1109.2" stroke="#333" stroke-width="1.5" />
<text x="973.3" y="1116.4" font-family="'Liberation Sans', Arial, sans-serif" font-size="16.2" fill="#4d4d4d" text-anchor="end" stroke="#4d4d4d" stroke-width="0.3">0.1</text>
<line x1="978.4" y1="993.6" x2="982.2" y2="993.6" stroke="#333" stroke-width="1.5" />
<text x="973.3" y="1000.8" font-family="'Liberation Sans', Arial, sans-serif" font-size="16.2" fill="#4d4d4d" text-anchor="end" stroke="#4d4d4d" stroke-width="0.3">0.2</text>
<line x1="978.4" y1="878" x2="982.2" y2="878" stroke="#333" stroke-width="1.5" />
<text x="973.3" y="885.2" font-family="'Liberation Sans', Arial, sans-serif" font-size="16.2" fill="#4d4d4d" text-anchor="end" stroke="#4d4d4d" stroke-width="0.3">0.3</text>
<line x1="978.4" y1="762.4" x2="982.2" y2="762.4" stroke="#333" stroke-width="1.5" />
<text x="973.3" y="769.6" font-family="'Liberation Sans', Arial, sans-serif" font-size="16.2" fill="#4d4d4d" text-anchor="end" stroke="#4d4d4d" stroke-width="0.3">0.4</text>
<line x1="1013.8" y1="1301.5" x2="1013.8" y2="1305.3" stroke="#333" stroke-width="1.5" />
<text x="1013.8" y="1325.3" font-family="'Liberation Sans', Arial, sans-serif" font-size="16" fill="#4d4d4d" text-anchor="middle" stroke="#4d4d4d" stroke-width="0.3">0%</text>
<line x1="1168.92" y1="1301.5" x2="1168.92" y2="1305.3" stroke="#333" stroke-width="1.5" />
<text x="1168.92" y="1325.3" font-family="'Liberation Sans', Arial, sans-serif" font-size="16" fill="#4d4d4d" text-anchor="middle" stroke="#4d4d4d" stroke-width="0.3">25%</text>
<line x1="1324.05" y1="1301.5" x2="1324.05" y2="1305.3" stroke="#333" stroke-width="1.5" />
<text x="1324.05" y="1325.3" font-family="'Liberation Sans', Arial, sans-serif" font-size="16" fill="#4d4d4d" text-anchor="middle" stroke="#4d4d4d" stroke-width="0.3">50%</text>
<line x1="1479.17" y1="1301.5" x2="1479.17" y2="1305.3" stroke="#333" stroke-width="1.5" />
<text x="1479.17" y="1325.3" font-family="'Liberation Sans', Arial, sans-serif" font-size="16" fill="#4d4d4d" text-anchor="middle" stroke="#4d4d4d" stroke-width="0.3">75%</text>
<line x1="1634.3" y1="1301.5" x2="1634.3" y2="1305.3" stroke="#333" stroke-width="1.5" />
<text x="1634.3" y="1325.3" font-family="'Liberation Sans', Arial, sans-serif" font-size="16" fill="#4d4d4d" text-anchor="middle" stroke="#4d4d4d" stroke-width="0.3">100%</text>
<text x="1320.8" y="1348" font-family="'Liberation Sans', Arial, sans-serif" font-size="18.9" fill="#000" text-anchor="middle" stroke="#000" stroke-width="0.3">Threshold Probability</text>
<text x="943.6" y="1001.5" font-family="'Liberation Sans', Arial, sans-serif" font-size="18.9" fill="#000" text-anchor="middle" transform="rotate(-90 943.6 1001.5)" stroke="#000" stroke-width="0.3">Net Benefit</text>
<line x1="1690.4" y1="984.7" x2="1714" y2="984.7" stroke="#d2606a" stroke-width="2.8" />
<text x="1727.4" y="992.3" font-family="'Liberation Sans', Arial, sans-serif" font-size="16.1" fill="#000" text-anchor="start" stroke="#000" stroke-width="0.3">Treat All</text>
<line x1="1690.4" y1="1014.55" x2="1714" y2="1014.55" stroke="#22a044" stroke-width="2.8" />
<text x="1727.4" y="1022.15" font-family="'Liberation Sans', Arial, sans-serif" font-size="16.1" fill="#000" text-anchor="start" stroke="#000" stroke-width="0.3">Treat None</text>
<line x1="1690.4" y1="1044.4" x2="1714" y2="1044.4" stroke="#4a82dc" stroke-width="2.8" />
<text x="1727.4" y="1052" font-family="'Liberation Sans', Arial, sans-serif" font-size="16.1" fill="#000" text-anchor="start" stroke="#000" stroke-width="0.3">prediction</text>
<line x1="105.4" y1="1912.6" x2="105.4" y2="1496.6" stroke="#333" stroke-width="1.6" />
<line x1="92.4" y1="1912.6" x2="105.4" y2="1912.6" stroke="#333" stroke-width="1.6" />
<text x="78.6" y="1920.9" font-family="'Liberation Sans', Arial, sans-serif" font-size="20.5" fill="#1a1a1a" text-anchor="end" stroke="#1a1a1a" stroke-width="0.3">0 %</text>
<line x1="92.4" y1="1808.6" x2="105.4" y2="1808.6" stroke="#333" stroke-width="1.6" />
<text x="78.6" y="1816.9" font-family="'Liberation Sans', Arial, sans-serif" font-size="20.5" fill="#1a1a1a" text-anchor="end" stroke="#1a1a1a" stroke-width="0.3">25 %</text>
<line x1="92.4" y1="1704.6" x2="105.4" y2="1704.6" stroke="#333" stroke-width="1.6" />
<text x="78.6" y="1712.9" font-family="'Liberation Sans', Arial, sans-serif" font-size="20.5" fill="#1a1a1a" text-anchor="end" stroke="#1a1a1a" stroke-width="0.3">50 %</text>
<line x1="92.4" y1="1600.6" x2="105.4" y2="1600.6" stroke="#333" stroke-width="1.6" />
<text x="78.6" y="1608.9" font-family="'Liberation Sans', Arial, sans-serif" font-size="20.5" fill="#1a1a1a" text-anchor="end" stroke="#1a1a1a" stroke-width="0.3">75 %</text>
<line x1="92.4" y1="1496.6" x2="105.4" y2="1496.6" stroke="#333" stroke-width="1.6" />
<text x="78.6" y="1504.9" font-family="'Liberation Sans', Arial, sans-serif" font-size="20.5" fill="#1a1a1a" text-anchor="end" stroke="#1a1a1a" stroke-width="0.3">100 %</text>
<line x1="133.1" y1="1929.6" x2="827.1" y2="1929.6" stroke="#333" stroke-width="1.6" />
<line x1="133.1" y1="1929.6" x2="133.1" y2="1943.1" stroke="#333" stroke-width="1.6" />
<text x="133.1" y="1974.6" font-family="'Liberation Sans', Arial, sans-serif" font-size="20.5" fill="#1a1a1a" text-anchor="middle" stroke="#1a1a1a" stroke-width="0.3">0 %</text>
<line x1="306.6" y1="1929.6" x2="306.6" y2="1943.1" stroke="#333" stroke-width="1.6" />
<text x="306.6" y="1974.6" font-family="'Liberation Sans', Arial, sans-serif" font-size="20.5" fill="#1a1a1a" text-anchor="middle" stroke="#1a1a1a" stroke-width="0.3">25 %</text>
<line x1="480.1" y1="1929.6" x2="480.1" y2="1943.1" stroke="#333" stroke-width="1.6" />
<text x="480.1" y="1974.6" font-family="'Liberation Sans', Arial, sans-serif" font-size="20.5" fill="#1a1a1a" text-anchor="middle" stroke="#1a1a1a" stroke-width="0.3">50 %</text>
<line x1="653.6" y1="1929.6" x2="653.6" y2="1943.1" stroke="#333" stroke-width="1.6" />
<text x="653.6" y="1974.6" font-family="'Liberation Sans', Arial, sans-serif" font-size="20.5" fill="#1a1a1a" text-anchor="middle" stroke="#1a1a1a" stroke-width="0.3">75 %</text>
<line x1="827.1" y1="1929.6" x2="827.1" y2="1943.1" stroke="#333" stroke-width="1.6" />
<text x="827.1" y="1974.6" font-family="'Liberation Sans', Arial, sans-serif" font-size="20.5" fill="#1a1a1a" text-anchor="middle" stroke="#1a1a1a" stroke-width="0.3">100 %</text>
<line x1="321.38" y1="1914.6" x2="321.38" y2="1929.6" stroke="#333" stroke-width="1.6" />
<line x1="695.45" y1="1914.6" x2="695.45" y2="1929.6" stroke="#333" stroke-width="1.6" />
<text x="480.1" y="2025.2" font-family="'Liberation Sans', Arial, sans-serif" font-size="20.6" fill="#1a1a1a" text-anchor="middle" stroke="#1a1a1a" stroke-width="0.3">Predicted</text>
<text x="26.9" y="1704.6" font-family="'Liberation Sans', Arial, sans-serif" font-size="20.6" fill="#1a1a1a" text-anchor="middle" transform="rotate(-90 26.9 1704.6)" stroke="#1a1a1a" stroke-width="0.3">Observerd</text>
<line x1="133.1" y1="1912.6" x2="827.1" y2="1496.6" stroke="#b4b4b4" stroke-width="1.5" />
<polyline points="321,1793.4 693.1,1583.6" fill="none" stroke="#000" stroke-width="4.2" stroke-linecap="round" stroke-linejoin="round"/>
<text x="288.1" y="1518.6" font-family="'Liberation Sans', Arial, sans-serif" font-size="20.6" fill="#1a1a1a" text-anchor="middle" stroke="#1a1a1a" stroke-width="0.3">AUC</text>
<text x="451.5" y="1518.6" font-family="'Liberation Sans', Arial, sans-serif" font-size="20.6" fill="#1a1a1a" text-anchor="middle" stroke="#1a1a1a" stroke-width="0.3">Brier</text>
<text x="180.3" y="1540.8" font-family="'Liberation Sans', Arial, sans-serif" font-size="20.6" fill="#1a1a1a" text-anchor="start" stroke="#1a1a1a" stroke-width="0.3">fit</text>
<text x="216.5" y="1540.8" font-family="'Liberation Sans', Arial, sans-serif" font-size="20.6" fill="#1a1a1a" text-anchor="start" stroke="#1a1a1a" stroke-width="0.3">71.9 [62.8;81.0]</text>
<text x="379" y="1540.8" font-family="'Liberation Sans', Arial, sans-serif" font-size="20.6" fill="#1a1a1a" text-anchor="start" stroke="#1a1a1a" stroke-width="0.3">20.2 [15.4;25.0]</text>
<line x1="1020.8" y1="1912.6" x2="1020.8" y2="1496.6" stroke="#333" stroke-width="1.6" />
<line x1="1007.8" y1="1912.6" x2="1020.8" y2="1912.6" stroke="#333" stroke-width="1.6" />
<text x="994" y="1920.9" font-family="'Liberation Sans', Arial, sans-serif" font-size="20.5" fill="#1a1a1a" text-anchor="end" stroke="#1a1a1a" stroke-width="0.3">0 %</text>
<line x1="1007.8" y1="1808.6" x2="1020.8" y2="1808.6" stroke="#333" stroke-width="1.6" />
<text x="994" y="1816.9" font-family="'Liberation Sans', Arial, sans-serif" font-size="20.5" fill="#1a1a1a" text-anchor="end" stroke="#1a1a1a" stroke-width="0.3">25 %</text>
<line x1="1007.8" y1="1704.6" x2="1020.8" y2="1704.6" stroke="#333" stroke-width="1.6" />
<text x="994" y="1712.9" font-family="'Liberation Sans', Arial, sans-serif" font-size="20.5" fill="#1a1a1a" text-anchor="end" stroke="#1a1a1a" stroke-width="0.3">50 %</text>
<line x1="1007.8" y1="1600.6" x2="1020.8" y2="1600.6" stroke="#333" stroke-width="1.6" />
<text x="994" y="1608.9" font-family="'Liberation Sans', Arial, sans-serif" font-size="20.5" fill="#1a1a1a" text-anchor="end" stroke="#1a1a1a" stroke-width="0.3">75 %</text>
<line x1="1007.8" y1="1496.6" x2="1020.8" y2="1496.6" stroke="#333" stroke-width="1.6" />
<text x="994" y="1504.9" font-family="'Liberation Sans', Arial, sans-serif" font-size="20.5" fill="#1a1a1a" text-anchor="end" stroke="#1a1a1a" stroke-width="0.3">100 %</text>
<line x1="1048.8" y1="1929.6" x2="1745.3" y2="1929.6" stroke="#333" stroke-width="1.6" />
<line x1="1048.8" y1="1929.6" x2="1048.8" y2="1943.1" stroke="#333" stroke-width="1.6" />
<text x="1048.8" y="1974.6" font-family="'Liberation Sans', Arial, sans-serif" font-size="20.5" fill="#1a1a1a" text-anchor="middle" stroke="#1a1a1a" stroke-width="0.3">0 %</text>
<line x1="1222.92" y1="1929.6" x2="1222.92" y2="1943.1" stroke="#333" stroke-width="1.6" />
<text x="1222.92" y="1974.6" font-family="'Liberation Sans', Arial, sans-serif" font-size="20.5" fill="#1a1a1a" text-anchor="middle" stroke="#1a1a1a" stroke-width="0.3">25 %</text>
<line x1="1397.05" y1="1929.6" x2="1397.05" y2="1943.1" stroke="#333" stroke-width="1.6" />
<text x="1397.05" y="1974.6" font-family="'Liberation Sans', Arial, sans-serif" font-size="20.5" fill="#1a1a1a" text-anchor="middle" stroke="#1a1a1a" stroke-width="0.3">50 %</text>
<line x1="1571.17" y1="1929.6" x2="1571.17" y2="1943.1" stroke="#333" stroke-width="1.6" />
<text x="1571.17" y="1974.6" font-family="'Liberation Sans', Arial, sans-serif" font-size="20.5" fill="#1a1a1a" text-anchor="middle" stroke="#1a1a1a" stroke-width="0.3">75 %</text>
<line x1="1745.3" y1="1929.6" x2="1745.3" y2="1943.1" stroke="#333" stroke-width="1.6" />
<text x="1745.3" y="1974.6" font-family="'Liberation Sans', Arial, sans-serif" font-size="20.5" fill="#1a1a1a" text-anchor="middle" stroke="#1a1a1a" stroke-width="0.3">100 %</text>
<text x="1397.05" y="2025.2" font-family="'Liberation Sans', Arial, sans-serif" font-size="20.6" fill="#1a1a1a" text-anchor="middle" stroke="#1a1a1a" stroke-width="0.3">Predicted</text>
<text x="942.3" y="1704.6" font-family="'Liberation Sans', Arial, sans-serif" font-size="20.6" fill="#1a1a1a" text-anchor="middle" transform="rotate(-90 942.3 1704.6)" stroke="#1a1a1a" stroke-width="0.3">Observerd</text>
<line x1="1048.8" y1="1912.6" x2="1745.3" y2="1496.6" stroke="#b4b4b4" stroke-width="1.5" />
<polyline points="1180.7,1838.4 1239.7,1799 1298.8,1760.1 1357.8,1721.7 1416.8,1683.6 1475.9,1646.1 1534.9,1609" fill="none" stroke="#000" stroke-width="4.2" stroke-linecap="round" stroke-linejoin="round"/>
<text x="1211.2" y="1518.6" font-family="'Liberation Sans', Arial, sans-serif" font-size="20.6" fill="#1a1a1a" text-anchor="middle" stroke="#1a1a1a" stroke-width="0.3">AUC</text>
<text x="1376.1" y="1518.6" font-family="'Liberation Sans', Arial, sans-serif" font-size="20.6" fill="#1a1a1a" text-anchor="middle" stroke="#1a1a1a" stroke-width="0.3">Brier</text>
<text x="1097.2" y="1540.8" font-family="'Liberation Sans', Arial, sans-serif" font-size="20.6" fill="#1a1a1a" text-anchor="start" stroke="#1a1a1a" stroke-width="0.3">fit</text>
<text x="1133.6" y="1540.8" font-family="'Liberation Sans', Arial, sans-serif" font-size="20.6" fill="#1a1a1a" text-anchor="start" stroke="#1a1a1a" stroke-width="0.3">80.9 [61.1;100.0]</text>
<text x="1310.6" y="1540.8" font-family="'Liberation Sans', Arial, sans-serif" font-size="20.6" fill="#1a1a1a" text-anchor="start" stroke="#1a1a1a" stroke-width="0.3">15.4 [5.1;25.8]</text>
</svg>
</body></html>
